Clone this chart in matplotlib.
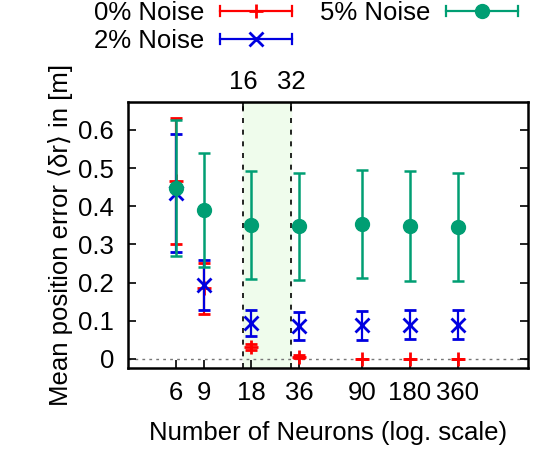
import matplotlib.pyplot as plt
from matplotlib.legend_handler import HandlerBase
from matplotlib.lines import Line2D

plt.rcParams['font.family'] = ['Liberation Sans', 'DejaVu Sans']
plt.rcParams['font.size'] = 18.5

# data
neurons = [6, 9, 18, 36, 90, 180, 360]
x_labels = ['6', '9', '18', '36', '90', '180', '360']

err0 = [0.465, 0.185, 0.030, 0.005, 0.0, 0.0, 0.0]
std0 = [0.165, 0.067, 0.008, 0.004, 0.0, 0.0, 0.0]

err2 = [0.435, 0.193, 0.093, 0.087, 0.088, 0.089, 0.089]
std2 = [0.155, 0.065, 0.034, 0.037, 0.038, 0.038, 0.038]

err5 = [0.448, 0.390, 0.350, 0.347, 0.354, 0.348, 0.346]
std5 = [0.178, 0.150, 0.142, 0.140, 0.141, 0.144, 0.141]

band = [16, 32]

red = '#ff0000'
blue = '#0000e0'
green = '#009e73'


# gnuplot-like legend sample: horizontal bar with caps and the marker in the middle
class HandlerHBar(HandlerBase):
    def create_artists(self, legend, orig_handle, xdescent, ydescent,
                       width, height, fontsize, trans):
        c = orig_handle.get_color()
        y = height / 2 - ydescent
        x0, x1 = -xdescent, width - xdescent
        cap = 0.2 * fontsize
        arts = [Line2D([x0, x1], [y, y], color=c, lw=1.6),
                Line2D([x0, x0], [y - cap, y + cap], color=c, lw=1.6),
                Line2D([x1, x1], [y - cap, y + cap], color=c, lw=1.6),
                Line2D([(x0 + x1) / 2], [y], color=c, ls='none',
                       marker=orig_handle.get_marker(),
                       ms=orig_handle.get_markersize(),
                       mew=orig_handle.get_markeredgewidth())]
        for a in arts:
            a.set_transform(trans)
        return arts


fig = plt.figure(figsize=(5.59, 4.58), dpi=100)
ax = fig.add_axes([128/559, 1-368/458, 400/559, 266/458])

ax.axvspan(band[0], band[1], color='#effcec', zorder=0)
for b in band:
    ax.axvline(b, color='black', ls=(0, (3, 4)), lw=1.2, zorder=1)
ax.axhline(0, color='#777777', ls=(0, (2, 3)), lw=1.0, zorder=1)

ax.errorbar(neurons, err0, yerr=std0, fmt='+', color=red, ms=10, mew=2,
            elinewidth=1.6, capsize=4, capthick=1.6, zorder=3)
ax.errorbar(neurons, err2, yerr=std2, fmt='x', color=blue, ms=10, mew=2,
            elinewidth=1.6, capsize=4, capthick=1.6, zorder=4)
ax.errorbar(neurons, err5, yerr=std5, fmt='o', color=green, ms=10,
            elinewidth=1.8, capsize=4, capthick=1.8, zorder=5)

ax.set_xscale('log')
ax.set_xlim(3, 1000)
ax.set_ylim(-0.024, 0.673)
ax.set_xticks(neurons)
ax.set_xticklabels(x_labels)
ax.minorticks_off()
ax.set_yticks([0, 0.1, 0.2, 0.3, 0.4, 0.5, 0.6])
ax.set_yticklabels(['0', '0.1', '0.2', '0.3', '0.4', '0.5', '0.6'])
ax.tick_params(direction='in', length=6, width=1.2, right=True, pad=10)
ax.tick_params(axis='x', pad=9)
for s in ax.spines.values():
    s.set_linewidth(1.8)

top = ax.secondary_xaxis('top')
top.set_xticks(band)
top.set_xticklabels(['16', '32'])
top.minorticks_off()
top.tick_params(direction='in', length=6, width=1.2, pad=6)

ax.set_xlabel('Number of Neurons (log. scale)', labelpad=12)
ax.set_ylabel('Mean position error ⟨δr⟩ in [m]', labelpad=4)

handles = [Line2D([], [], color=red, marker='+', ms=10, mew=2),
           Line2D([], [], color=blue, marker='x', ms=10, mew=2),
           Line2D([], [], color=green, marker='o', ms=10)]
labels = ['0% Noise', '2% Noise', '5% Noise']
fig.legend(handles, labels, handler_map={Line2D: HandlerHBar()},
           loc='upper left', bbox_to_anchor=(93/559, 1.0), ncol=2, markerfirst=False,
           frameon=False, handlelength=2.8, columnspacing=1.1, labelspacing=0.15,
           handletextpad=0.6, borderaxespad=0, borderpad=0.05)

fig.savefig('out.png', dpi=100)
